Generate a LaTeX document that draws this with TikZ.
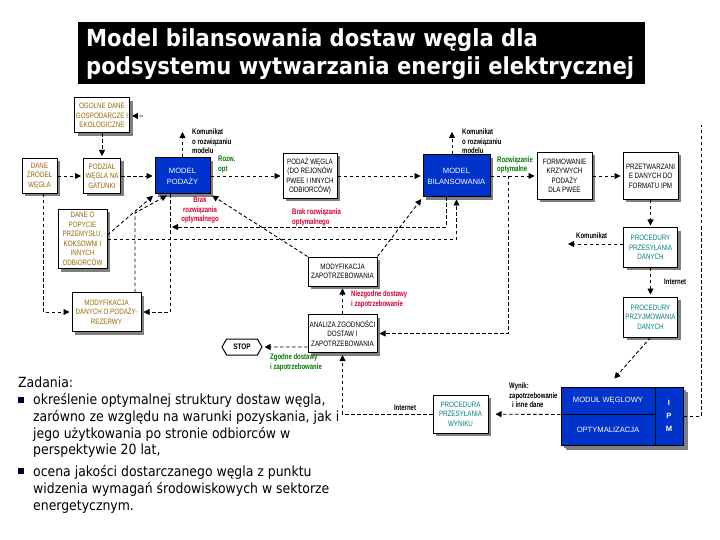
\documentclass[tikz,border=0pt]{standalone}
\usepackage{fontspec}
\usetikzlibrary{arrows.meta, shapes.symbols, shadows}
\setmainfont{DejaVu Sans}
\newfontfamily\titlefont[FakeStretch=0.9]{DejaVu Sans}
\newfontfamily\bodyfont[FakeStretch=0.89]{DejaVu Sans}
\newfontfamily\boxfont[FakeStretch=0.8]{Liberation Sans}
\newfontfamily\notefont[FakeStretch=0.75]{Liberation Sans}
\newfontfamily\bluefont{Liberation Sans}
\definecolor{modelblue}{RGB}{0,51,204}
\definecolor{srcgold}{RGB}{153,102,0}
\definecolor{netteal}{RGB}{0,128,128}
\definecolor{failred}{RGB}{215,0,50}
\definecolor{okgreen}{RGB}{0,120,0}
\tikzset{
    box/.style={draw, line width=1pt, fill=white, align=center, inner sep=0.5pt,
        font=\boxfont\fontsize{7.8}{9.5}\selectfont,
        drop shadow={shadow xshift=3pt, shadow yshift=-3pt, fill=gray, opacity=1}}, % boxes with grey shadow
    srcbox/.style={box, text=srcgold},
    netbox/.style={box, text=netteal},
    modelbox/.style={box, fill=modelblue, text=white,
        font=\bluefont\fontsize{7.6}{11}\selectfont},
    link/.style={-{Triangle[length=6pt,width=6pt]}, dash pattern=on 3.5pt off 2.5pt,
        line width=0.9pt, shorten >=2pt},
    wire/.style={dash pattern=on 3.5pt off 2.5pt, line width=0.9pt},
    note/.style={font=\notefont\bfseries\fontsize{8}{9.5}\selectfont, align=left, inner sep=0pt},
}
\begin{document}
\begin{tikzpicture}[x=1pt, y=-1pt]
  \useasboundingbox (0,0) rectangle (720,540);
  \fill[white] (0,0) rectangle (720,540);

  % title
  \node[fill=black, minimum width=567pt, minimum height=62pt, anchor=north west, inner sep=0pt] (titlebox) at (78,22) {};
  \node[anchor=base west, inner sep=0pt, text=white, font=\titlefont\bfseries\fontsize{23.5}{28}\selectfont] (title1) at (86,47) {Model bilansowania dostaw węgla dla};
  \node[anchor=base west, inner sep=0pt, text=white, font=\titlefont\bfseries\fontsize{23.5}{28}\selectfont] (title2) at (86,75) {podsystemu wytwarzania energii elektrycznej};

  \node[srcbox, minimum width=55pt, minimum height=35pt] (ogolne) at (102,115.5) {OGOLNE DANE\\GOSPODARCZE I\\EKOLOGICZNE};
  \node[srcbox, minimum width=35pt, minimum height=35pt] (zrodla) at (39.5,176) {DANE\\ŹRÓDEŁ\\WĘGLA};
  \node[srcbox, minimum width=37pt, minimum height=35pt] (podzial) at (102,176) {PODZIAŁ\\WĘGLA NA\\GATUNKI};
  \node[modelbox, minimum width=55pt, minimum height=36pt] (mpodazy) at (182.5,176) {MODEL\\PODAŻY};
  \node[box, minimum width=54pt, minimum height=45pt] (podaz) at (310,176) {PODAŻ WĘGLA\\(DO REJONÓW\\PWEE I INNYCH\\ODBIORCÓW)};
  \node[modelbox, minimum width=67pt, minimum height=42pt] (mbil) at (456.5,176) {MODEL\\BILANSOWANIA};
  \node[box, minimum width=55pt, minimum height=47pt] (formowanie) at (564.5,176) {FORMOWANIE\\KRZYWYCH\\PODAŻY\\DLA PWEE};
  \node[box, minimum width=55pt, minimum height=47pt] (przetw) at (650.5,176) {PRZETWARZANI\\E DANYCH DO\\FORMATU IPM};
  \node[netbox, minimum width=54pt, minimum height=39pt] (przesyl) at (650.5,247.5) {PROCEDURY\\PRZESYŁANIA\\DANYCH};
  \node[netbox, minimum width=54pt, minimum height=40pt] (przyjm) at (650.5,317) {PROCEDURY\\PRZYJMOWANIA\\DANYCH};
  \node[srcbox, minimum width=49pt, minimum height=59pt] (popyt) at (82.5,239) {DANE O\\POPYCIE\\PRZEMYSŁU,\\KOKSOWNI I\\INNYCH\\ODBIORCÓW};
  \node[srcbox, minimum width=69pt, minimum height=39pt] (modpodaz) at (106.5,312) {MODYFIKACJA\\DANYCH O PODAŻY-\\REZERWY};
  \node[box, minimum width=69pt, minimum height=29pt] (modzap) at (342.5,271.5) {MODYFIKACJA\\ZAPOTRZEBOWANIA};
  \node[box, minimum width=69pt, minimum height=38pt] (analiza) at (342.5,333.5) {ANALIZA ZGODNOŚCI\\DOSTAW I\\ZAPOTRZEBOWANIA};
  \node[draw, line width=1pt, fill=white, signal, signal to=west and east, signal pointer angle=120,
        minimum width=40pt, minimum height=16pt, inner sep=0pt, font=\boxfont\bfseries\fontsize{8}{9}\selectfont] (stop) at (242,347) {STOP};
  \node[netbox, minimum width=55pt, minimum height=38pt] (wynik) at (460.5,414) {PROCEDURA\\PRZESYŁANIA\\WYNIKU};

  \node[modelbox, minimum width=94pt, minimum height=27pt, drop shadow={shadow xshift=5pt, shadow yshift=-5pt, fill=gray, opacity=1}] (modw) at (608,400.5) {MODUŁ WĘGLOWY};
  \node[modelbox, minimum width=94pt, minimum height=31pt, drop shadow={shadow xshift=5pt, shadow yshift=-5pt, fill=gray, opacity=1}] (modopt) at (608,429.5) {OPTYMALIZACJA};
  \node[modelbox, minimum width=28pt, minimum height=58pt, font=\bluefont\bfseries\fontsize{7.6}{13}\selectfont, drop shadow={shadow xshift=5pt, shadow yshift=-5pt, fill=gray, opacity=1}] (ipm) at (669,416) {I\\P\\M};

  \coordinate (ogin) at (143,116);
  \coordinate (kom1) at (182.5,130);
  \coordinate (kom2) at (452,130);
  \coordinate (kom3) at (566,244);
  \coordinate (split) at (508,176);
  \coordinate (modin) at (613,380);
  \coordinate (ipmout) at (701,125);
  \coordinate (knee) at (135,213);
  \coordinate (brak) at (170,227);

  \draw[link] (ogin) -- (ogolne);
  \draw[link] (ogolne) -- (podzial);
  \draw[link] (zrodla) -- (podzial);
  \draw[link] (podzial) -- (mpodazy);
  \draw[link] (mpodazy) -- (podaz);
  \draw[link] (podaz) -- (mbil);
  \draw[link] (mbil) -- (formowanie);
  \draw[link] (formowanie) -- (przetw);
  \draw[link] (przetw) -- (przesyl);
  \draw[link] (przesyl) -- (przyjm);
  \draw[link] (przyjm.south) -- (modin);
  \draw[link] (mpodazy) -- (kom1);
  \draw[link] (mbil.north -| kom2) -- (kom2);
  \draw[link] (przesyl.west |- kom3) -- (kom3);
  \draw[link] (split) |- (analiza.east);
  \draw[link] (analiza) -- (modzap);
  \draw[link] (analiza.west |- stop) -- (stop);
  \draw[link, shorten >=7pt] (modw.south west) -- (wynik);
  \draw[link] (wynik) -| (analiza);
  \draw[wire] (ipm) -| (ipmout);

  \draw[link] ([xshift=4pt]zrodla.south) |- (modpodaz.west);
  \draw[link] ([xshift=-12.5pt]mpodazy.south) |- (modpodaz.east);
  \draw[link] ([xshift=-6.5pt]modpodaz.north east) -- (knee) -- ([xshift=-14pt]mpodazy.south);
  \draw[link] ([yshift=4pt]popyt.east) -- (mpodazy.south west);
  \draw[link] (popyt.east) -| (mbil.south);
  \draw[link] ([xshift=-10.5pt]mbil.south) |- (brak);
  \draw[link] (modzap.north west) -- (mpodazy.south east);
  \draw[link] (modzap.north east) -- (mbil.south west);

  \node[note, anchor=north west] (kom1txt) at (192,129) {Komunikat\\o rozwiązaniu\\modelu};
  \node[note, anchor=north west] (kom2txt) at (462,129) {Komunikat\\o rozwiązaniu\\modelu};
  \node[note, anchor=north west, text=okgreen] (rozw1) at (218,156) {Rozw.\\opt};
  \node[note, anchor=north west, text=okgreen, font=\notefont\bfseries\fontsize{8}{8.5}\selectfont] (rozw2) at (497,157) {Rozwiązanie\\optymalne};
  \node[note, anchor=north, align=center, text=failred] (brak1) at (200,197) {Brak\\rozwiązania\\optymalnego};
  \node[note, anchor=north west, text=failred] (brak2) at (292,209) {Brak rozwiązania\\optymalnego};
  \node[note, anchor=north west, text=failred] (niezg) at (351,291) {Niezgodne dostawy\\i zapotrzebowanie};
  \node[note, anchor=north west, text=okgreen] (zgodne) at (270,354) {Zgodne dostawy\\i zapotrzebowanie};
  \node[note, anchor=west] (kom3txt) at (576,236) {Komunikat};
  \node[note, anchor=west] (inet1) at (664,282) {Internet};
  \node[note] (inet2) at (405,408) {Internet};
  \node[note, anchor=north west] (wyniktxt) at (509,383) {Wynik:\\zapotrzebowanie\\\hspace*{3pt}i inne dane};

  % tasks
  \node[anchor=base west, inner sep=0pt, font=\bodyfont\fontsize{14}{16.8}\selectfont] (zad) at (18,387) {Zadania:};
  \node[anchor=north west, inner sep=0pt, align=left, font=\bodyfont\fontsize{14}{16.8}\selectfont] (task1) at (33,393) {określenie optymalnej struktury dostaw węgla,\\zarówno ze względu na warunki pozyskania, jak i\\jego użytkowania po stronie odbiorców w\\perspektywie 20 lat,};
  \node[anchor=north west, inner sep=0pt, align=left, font=\bodyfont\fontsize{14}{16.8}\selectfont] (task2) at (33,465) {ocena jakości dostarczanego węgla z punktu\\widzenia wymagań środowiskowych w sektorze\\energetycznym.};
  \node[fill=black!80!blue, minimum size=6pt, inner sep=0pt] (bul1) at (21,400) {};
  \node[fill=black!80!blue, minimum size=6pt, inner sep=0pt] (bul2) at (21,471) {};
\end{tikzpicture}
\end{document}
